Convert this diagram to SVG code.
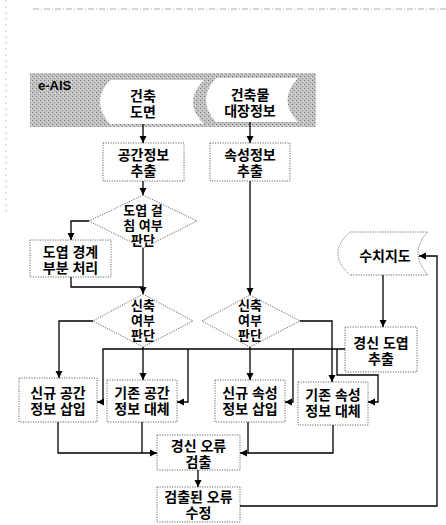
<svg xmlns="http://www.w3.org/2000/svg" width="446" height="525" viewBox="0 0 446 525">
<defs>
<pattern id="tex" width="4" height="4" patternUnits="userSpaceOnUse">
<rect width="4" height="4" fill="#c4c4c4"/>
<rect x="0" y="0" width="1" height="1" fill="#6f6f6f"/>
<rect x="2" y="2" width="1" height="1" fill="#858585"/>
<rect x="3" y="1" width="1" height="1" fill="#e6e6e6"/>
</pattern>
<marker id="ah" markerWidth="8" markerHeight="8" refX="7" refY="4" orient="auto" markerUnits="userSpaceOnUse">
<path d="M0,0.5 L7,4 L0,7.5 Z" fill="#000"/>
</marker>
</defs>
<style>
.box{fill:#fff;stroke:#666;stroke-width:1;stroke-dasharray:1.2 1.3}
.t{font-family:"Liberation Sans","Noto Sans CJK KR",sans-serif;font-weight:bold;font-size:14px;fill:#000;text-anchor:middle}
.td{font-size:13px}
.c{fill:none;stroke:#000;stroke-width:1.3}
.a{marker-end:url(#ah)}
</style>
<rect width="446" height="525" fill="#fff"/>
<line x1="33" y1="9" x2="446" y2="9" stroke="#999" stroke-width="0.8" stroke-dasharray="6 2 1 2"/>
<line x1="6" y1="0" x2="6" y2="215" stroke="#bbb" stroke-width="0.8" stroke-dasharray="2 4"/>

<g id="eais">
<rect x="30" y="73" width="286" height="54" fill="url(#tex)"/>
<text x="38" y="90" class="t" style="text-anchor:start;font-size:13px">e-AIS</text>
</g>
<g id="n_drawing">
<path d="M110,80 L204,80 Q182,102 204,124 L110,124 Q90,102 110,80 Z" fill="#fff"/>
<text class="t"><tspan x="143" y="101">건축</tspan><tspan x="143" y="117">도면</tspan></text>
</g>
<g id="n_ledger">
<path d="M216,78 L298,78 Q277,100 298,122 L216,122 Q196,100 216,78 Z" fill="#fff"/>
<text class="t"><tspan x="250" y="100">건축물</tspan><tspan x="250" y="116">대장정보</tspan></text>
</g>

<g id="n_spatial_extract">
<rect x="103" y="143" width="81" height="38" class="box"/>
<text class="t"><tspan x="143.5" y="160">공간정보</tspan><tspan x="143.5" y="176">추출</tspan></text>
</g>
<g id="n_attr_extract">
<rect x="210" y="143" width="80" height="38" class="box"/>
<text class="t"><tspan x="250" y="160">속성정보</tspan><tspan x="250" y="176">추출</tspan></text>
</g>
<g id="n_overlap">
<polygon points="143,195 197,221 143,248 89,221" class="box"/>
<text class="t td"><tspan x="143" y="215">도엽 걸</tspan><tspan x="143" y="230">침 여부</tspan><tspan x="143" y="245">판단</tspan></text>
</g>
<g id="n_boundary">
<rect x="30" y="240" width="81" height="37" class="box"/>
<text class="t"><tspan x="70.5" y="257">도엽 경계</tspan><tspan x="70.5" y="273">부분 처리</tspan></text>
</g>
<g id="n_new1">
<polygon points="143,294 193,321 143,347 93,321" class="box"/>
<text class="t td"><tspan x="143" y="310">신축</tspan><tspan x="143" y="325">여부</tspan><tspan x="143" y="340">판단</tspan></text>
</g>
<g id="n_new2">
<polygon points="250,295 300,321 250,347 202,321" class="box"/>
<text class="t td"><tspan x="250" y="310">신축</tspan><tspan x="250" y="325">여부</tspan><tspan x="250" y="340">판단</tspan></text>
</g>
<g id="n_digimap">
<path d="M350,232 L428,232 Q408,252 428,275 L350,275 Q326,253 350,232 Z" class="box"/>
<text x="385" y="261" class="t">수치지도</text>
</g>
<g id="n_update_extract">
<rect x="345" y="327" width="72" height="45" class="box"/>
<text class="t"><tspan x="381" y="348">경신 도엽</tspan><tspan x="381" y="364">추출</tspan></text>
</g>
<g id="n_new_spatial">
<rect x="19" y="378" width="78" height="44" class="box"/>
<text class="t"><tspan x="58" y="398">신규 공간</tspan><tspan x="58" y="414">정보 삽입</tspan></text>
</g>
<g id="n_old_spatial">
<rect x="107" y="380" width="70" height="42" class="box"/>
<text class="t"><tspan x="142" y="398">기존 공간</tspan><tspan x="142" y="414">정보 대체</tspan></text>
</g>
<g id="n_new_attr">
<rect x="215" y="380" width="70" height="42" class="box"/>
<text class="t"><tspan x="250" y="398">신규 속성</tspan><tspan x="250" y="414">정보 삽입</tspan></text>
</g>
<g id="n_old_attr">
<rect x="298" y="382" width="70" height="43" class="box"/>
<text class="t"><tspan x="333" y="400">기존 속성</tspan><tspan x="333" y="416">정보 대체</tspan></text>
</g>
<g id="n_detect">
<rect x="157" y="435" width="83" height="35" class="box"/>
<text class="t"><tspan x="198.5" y="451">경신 오류</tspan><tspan x="198.5" y="467">검출</tspan></text>
</g>
<g id="n_fix">
<rect x="157" y="487" width="83" height="35" class="box"/>
<text class="t"><tspan x="198.5" y="502">검출된 오류</tspan><tspan x="198.5" y="518">수정</tspan></text>
</g>

<g id="connectors">
<path d="M143,124 V143" class="c a"/>
<path d="M250,122 V143" class="c a"/>
<path d="M143,181 V195" class="c a"/>
<path d="M89,221 H71 V240" class="c a"/>
<path d="M143,248 V294" class="c a"/>
<path d="M71,277 V287 H143" class="c"/>
<path d="M250,181 V295" class="c a"/>
<path d="M93,321 H59 V378" class="c a"/>
<path d="M143,347 V380" class="c a"/>
<path d="M300,321 H332 V382" class="c a"/>
<path d="M250,347 V380" class="c a"/>
<path d="M345,349 H103 V402 H97" class="c a"/>
<path d="M188,349 V402 H177" class="c a"/>
<path d="M293,349 V402 H285" class="c a"/>
<path d="M337,349 V375 H378 V402 H368" class="c a"/>
<path d="M383,275 V327" class="c a"/>
<path d="M58,422 V453 H157" class="c a"/>
<path d="M142,422 V453" class="c"/>
<path d="M333,425 V453 H240" class="c a"/>
<path d="M248,422 V453" class="c"/>
<path d="M198,470 V487" class="c a"/>
<path d="M240,506 H437 V256 H419" class="c a"/>
</g>
</svg>
